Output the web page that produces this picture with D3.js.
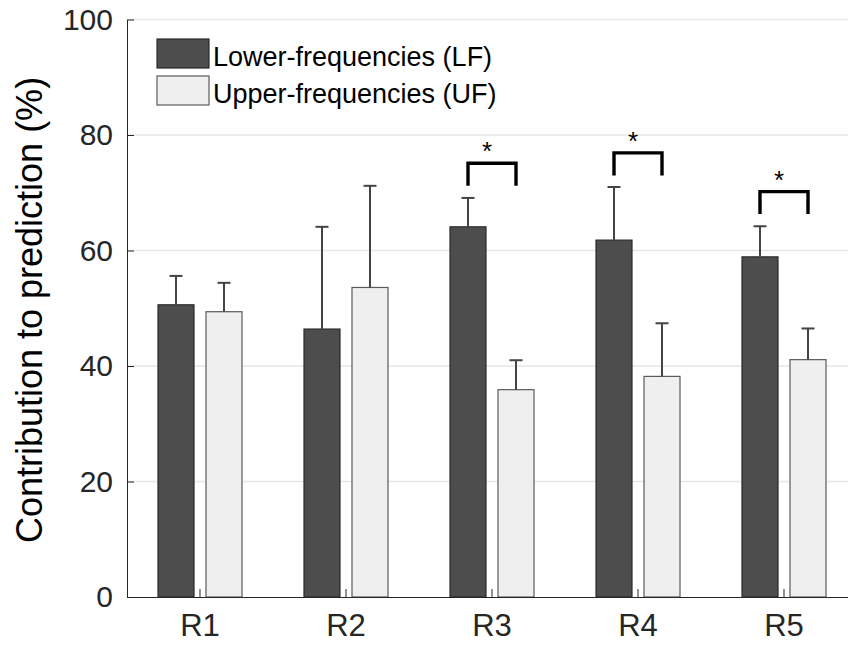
<!DOCTYPE html>
<html>
<head>
<meta charset="utf-8">
<script src="https://cdn.jsdelivr.net/npm/d3@7"></script>
<style>
  html, body { margin: 0; padding: 0; background: #fff; overflow: hidden; }
  svg { display: block; }
  text { font-family: "Liberation Sans", Arial, Helvetica, sans-serif; }
</style>
</head>
<body>
<svg id="chart" width="848" height="645"></svg>
<script>
// Regions on the x axis
const categories = ["R1", "R2", "R3", "R4", "R5"];
// Mean contribution to prediction (%) per band
const lfValues = [50.6, 46.4, 64.1, 61.8, 58.9];
const ufValues = [49.4, 53.6, 35.9, 38.2, 41.1];
// Upper error (one-sided) per band
const lfErrors = [5.0, 17.7, 5.0, 9.2, 5.3];
const ufErrors = [5.0, 17.6, 5.1, 9.2, 5.4];
// Significant LF vs UF differences and the level of their brackets
const sigCategories = ["R3", "R4", "R5"];
const sigLevels = [75.1, 76.9, 70.2];
const bracketDrop = 3.9;
// Axis ticks
const yTicks = [0, 20, 40, 60, 80, 100];
const seriesKeys = ["LF", "UF"];
const seriesNames = ["Lower-frequencies (LF)", "Upper-frequencies (UF)"];

const colors = { LF: "#4d4d4d", UF: "#efefef" };
const strokes = { LF: "#2b2b2b", UF: "#5a5a5a" };

const svg = d3.select("#chart");
const plotLeft = 127, plotRight = 857, plotTop = 19.5, plotBottom = 597;

const x = d3.scaleBand().domain(categories).range([plotLeft, plotRight]).paddingInner(0).paddingOuter(0);
const xs = d3.scaleBand().domain(seriesKeys).range([-42, 42]).paddingInner(0.25).paddingOuter(0);
const y = d3.scaleLinear().domain([0, 100]).range([plotBottom, plotTop]);

const rows = categories.map((c, i) => ({
  cat: c,
  LF: lfValues[i], UF: ufValues[i],
  LFerr: lfErrors[i], UFerr: ufErrors[i]
}));

// Gridlines
svg.append("g")
  .selectAll("line")
  .data(yTicks.filter(t => t > 0))
  .join("line")
  .attr("x1", plotLeft).attr("x2", plotRight)
  .attr("y1", d => y(d)).attr("y2", d => y(d))
  .attr("stroke", "#e6e6e6").attr("stroke-width", 1.5);

// Bars
const groups = svg.append("g").selectAll("g")
  .data(rows).join("g")
  .attr("transform", d => `translate(${x(d.cat) + x.bandwidth() / 2},0)`);

groups.selectAll("rect")
  .data(d => seriesKeys.map(k => ({ key: k, value: d[k], err: d[k + "err"] })))
  .join("rect")
  .attr("x", d => xs(d.key))
  .attr("width", xs.bandwidth())
  .attr("y", d => y(d.value))
  .attr("height", d => y(0) - y(d.value))
  .attr("fill", d => colors[d.key])
  .attr("stroke", d => strokes[d.key])
  .attr("stroke-width", 1.2);

// Error bars (upper only)
const eb = groups.selectAll("g.err")
  .data(d => seriesKeys.map(k => ({ key: k, value: d[k], err: d[k + "err"] })))
  .join("g").attr("class", "err");
eb.append("line")
  .attr("x1", d => xs(d.key) + xs.bandwidth() / 2)
  .attr("x2", d => xs(d.key) + xs.bandwidth() / 2)
  .attr("y1", d => y(d.value))
  .attr("y2", d => y(d.value + d.err))
  .attr("stroke", "#444").attr("stroke-width", 2);
eb.append("line")
  .attr("x1", d => xs(d.key) + xs.bandwidth() / 2 - 6.5)
  .attr("x2", d => xs(d.key) + xs.bandwidth() / 2 + 6.5)
  .attr("y1", d => y(d.value + d.err))
  .attr("y2", d => y(d.value + d.err))
  .attr("stroke", "#444").attr("stroke-width", 2);

// Axes
const yAxis = d3.axisLeft(y).tickValues(yTicks).tickSizeInner(-7).tickSizeOuter(0).tickPadding(14);
const gy = svg.append("g").attr("transform", `translate(${plotLeft},0)`).call(yAxis);
gy.select(".domain").attr("stroke", "#262626").attr("stroke-width", 1);
gy.selectAll(".tick line").attr("stroke", "#262626");
gy.selectAll(".tick text")
  .attr("font-size", 30).attr("fill", "#262626")
  .attr("font-family", "Liberation Sans, Arial, sans-serif");

const xAxis = d3.axisBottom(x).tickSizeInner(-8).tickSizeOuter(0).tickPadding(17);
const gx = svg.append("g").attr("transform", `translate(0,${plotBottom})`).call(xAxis);
gx.select(".domain").attr("stroke", "#262626").attr("stroke-width", 1.2);
gx.selectAll(".tick line").attr("stroke", "#262626");
gx.selectAll(".tick text")
  .attr("font-size", 31).attr("fill", "#262626")
  .attr("font-family", "Liberation Sans, Arial, sans-serif");

// Y axis title
svg.append("text")
  .attr("transform", `translate(42,310) rotate(-90)`)
  .attr("text-anchor", "middle")
  .attr("font-size", 36)
  .attr("fill", "#000")
  .text("Contribution to prediction (%)");

// Significance brackets
const sig = sigCategories.map((c, i) => ({ cat: c, level: sigLevels[i] }));
const sg = svg.append("g").selectAll("g").data(sig).join("g")
  .attr("transform", d => `translate(${x(d.cat) + x.bandwidth() / 2},0)`);
sg.append("path")
  .attr("d", d => {
    const x0 = xs("LF") + xs.bandwidth() / 2, x1 = xs("UF") + xs.bandwidth() / 2;
    return `M${x0},${y(d.level - bracketDrop)}V${y(d.level)}H${x1}V${y(d.level - bracketDrop)}`;
  })
  .attr("fill", "none").attr("stroke", "#000").attr("stroke-width", 3.4);
sg.append("text")
  .attr("x", -5)
  .attr("y", d => y(d.level) - 3)
  .attr("text-anchor", "middle")
  .attr("font-size", 26)
  .attr("fill", "#000")
  .text("*");

// Legend
const lg = svg.append("g").selectAll("g").data(seriesKeys).join("g")
  .attr("transform", (d, i) => `translate(157,${39 + i * 37})`);
lg.append("rect")
  .attr("width", 52).attr("height", 29)
  .attr("fill", d => colors[d])
  .attr("stroke", d => strokes[d]).attr("stroke-width", 1.2);
lg.append("text")
  .attr("x", 56).attr("y", 27)
  .attr("font-size", 27).attr("fill", "#000")
  .text((d, i) => seriesNames[i]);
</script>
</body>
</html>
